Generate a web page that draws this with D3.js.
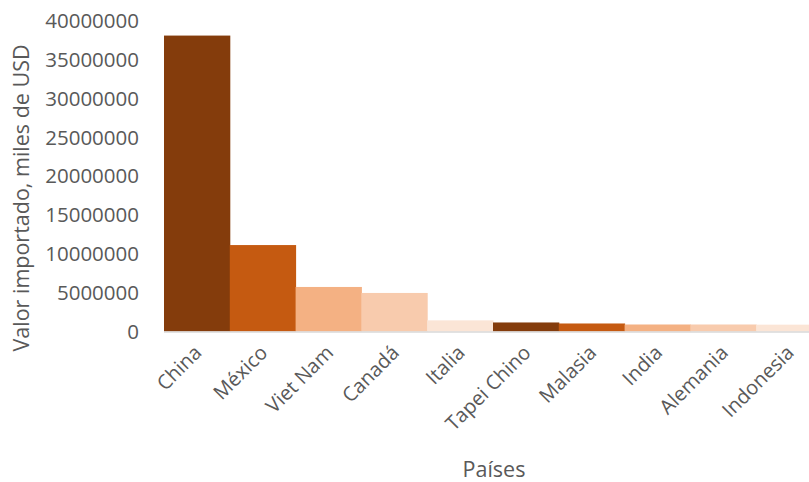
<!DOCTYPE html>
<html><head><meta charset="utf-8">
<script src="https://cdn.jsdelivr.net/npm/d3@7"></script>
<style>html,body{margin:0;padding:0;background:#fff;overflow:hidden}svg{display:block;font-family:"Open Sans",sans-serif}</style>
</head><body><svg id="c" width="809" height="482"></svg>
<script>
const categories = ["China","México","Viet Nam","Canadá","Italia","Tapei Chino","Malasia","India","Alemania","Indonesia"];
const values = [38000000,11100000,5720000,4950000,1430000,1160000,1030000,900000,900000,880000];
const colors = ["#843C0C","#C55A11","#F4B183","#F8CBAD","#FBE5D6","#843C0C","#C55A11","#F4B183","#F8CBAD","#FBE5D6"];
const yTicks = [0,5000000,10000000,15000000,20000000,25000000,30000000,35000000,40000000];

const svg = d3.select("#c");
const x = d3.scaleBand().domain(categories).range([164, 822]).padding(0);
const y = d3.scaleLinear().domain([0, 40000000]).range([331.5, 20]);

svg.append("g").selectAll("rect").data(categories).join("rect")
  .attr("x", d => x(d)).attr("width", x.bandwidth() + 0.5)
  .attr("y", (d,i) => y(values[i])).attr("height", (d,i) => y(0) - y(values[i]))
  .attr("fill", (d,i) => colors[i]);

// baseline
svg.append("line").attr("x1",164).attr("x2",822).attr("y1",y(0)+0.5).attr("y2",y(0)+0.5)
  .attr("stroke","#D9D9D9").attr("stroke-width",1.5);

// y axis
const ya = svg.append("g").attr("transform","translate(146,0)")
  .call(d3.axisLeft(y).tickValues(yTicks).tickFormat(d3.format("d")).tickSize(0).tickPadding(7));
ya.select(".domain").remove();
ya.selectAll("text").attr("fill","#595959").style("font-size","20.5px").style("font-family","'Open Sans',sans-serif").attr("dy","0.35em");

// x axis labels
const xa = svg.append("g");
xa.selectAll("text").data(categories).join("text")
  .attr("transform", d => `translate(${x(d) + x.bandwidth()/2 + 6},${354}) rotate(-45)`)
  .attr("text-anchor","end").attr("fill","#595959").style("font-size","20px")
  .text(d => d);

// titles
svg.append("text").attr("transform","translate(29,198) rotate(-90)").attr("text-anchor","middle")
  .attr("fill","#595959").style("font-size","21.5px").text("Valor importado, miles de USD");
svg.append("text").attr("x",494).attr("y",477).attr("text-anchor","middle")
  .attr("fill","#595959").style("font-size","21.5px").text("Países");
</script></body></html>
